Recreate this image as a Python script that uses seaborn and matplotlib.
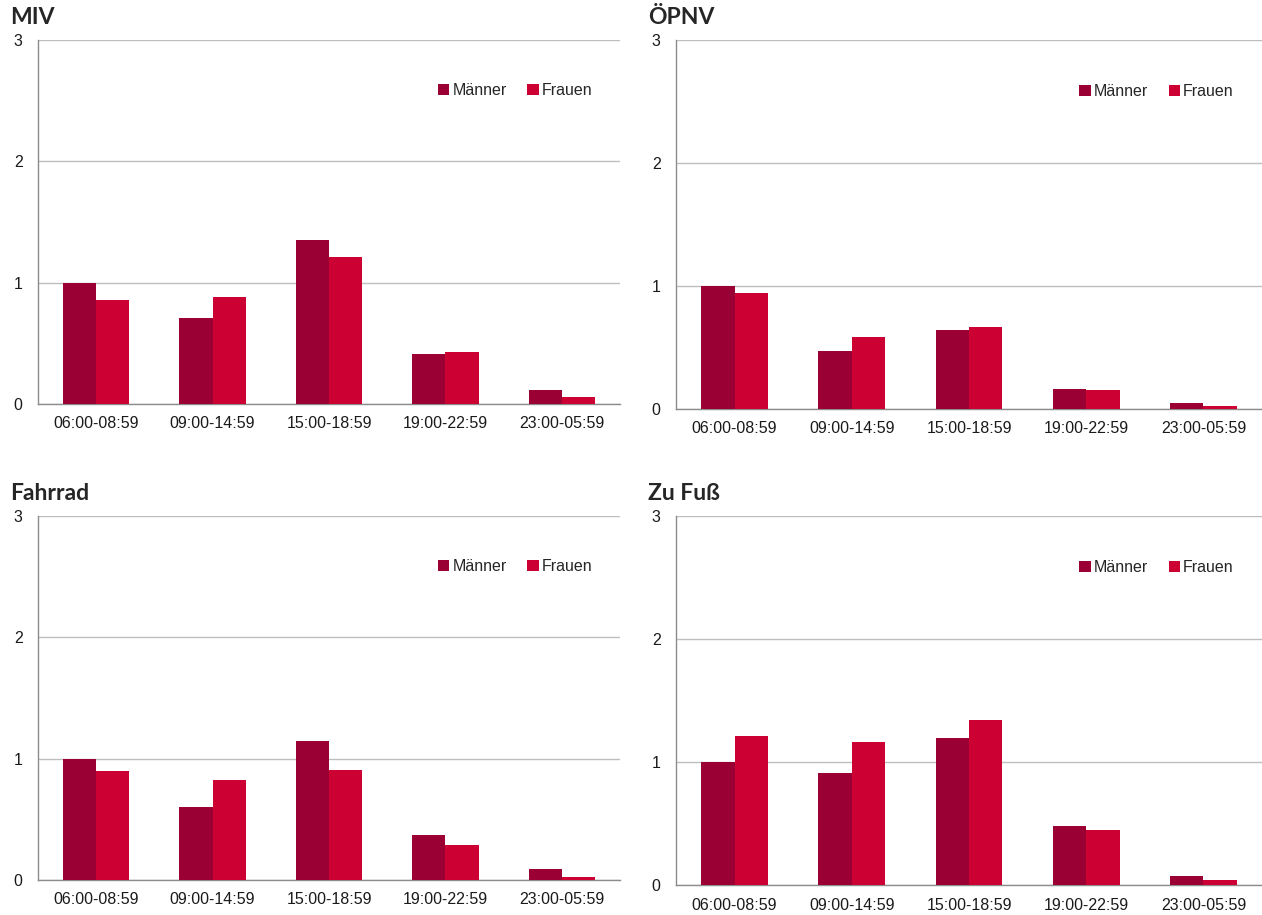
import pandas as pd
import matplotlib
matplotlib.use("Agg")
import matplotlib.pyplot as plt
import seaborn as sns

# Daten
zeiten = ["06:00-08:59", "09:00-14:59", "15:00-18:59", "19:00-22:59", "23:00-05:59"]
gruppen = ["Männer", "Frauen"]
titel = ["MIV", "ÖPNV", "Fahrrad", "Zu Fuß"]

miv_m = [1.00, 0.71, 1.35, 0.41, 0.115]
miv_f = [0.86, 0.88, 1.21, 0.43, 0.06]
oepnv_m = [1.00, 0.47, 0.645, 0.16, 0.05]
oepnv_f = [0.94, 0.585, 0.67, 0.155, 0.025]
rad_m = [1.00, 0.60, 1.145, 0.37, 0.09]
rad_f = [0.90, 0.825, 0.905, 0.29, 0.025]
fuss_m = [1.00, 0.91, 1.195, 0.48, 0.075]
fuss_f = [1.21, 1.16, 1.34, 0.45, 0.04]

serien = [(miv_m, miv_f), (oepnv_m, oepnv_f), (rad_m, rad_f), (fuss_m, fuss_f)]

farben = {"Männer": "#9B0034", "Frauen": "#CC0033"}

sns.set_style("white")
plt.rcParams["font.family"] = ["Liberation Sans", "DejaVu Sans"]

fig = plt.figure(figsize=(12.62, 9.15), dpi=100)

# Position der Achsen in Pixeln: (links, oben, rechts, unten)
boxen = [(38, 40, 620, 404), (676, 40, 1262, 409),
         (38, 516, 620, 880), (676, 516, 1262, 885)]

W, H = 1262, 915
for name, (m, f), (l, t, r, b) in zip(titel, serien, boxen):
    ax = fig.add_axes([l / W, 1 - b / H, (r - l) / W, (b - t) / H])
    df = pd.DataFrame({
        "Zeit": zeiten * 2,
        "Gruppe": ["Männer"] * 5 + ["Frauen"] * 5,
        "Wert": m + f,
    })
    sns.barplot(data=df, x="Zeit", y="Wert", hue="Gruppe", hue_order=gruppen,
                palette=farben, width=0.57, gap=0, errorbar=None,
                saturation=1, linewidth=0, ax=ax, zorder=3)
    ax.set_ylim(0, 3)
    ax.set_xlim(-0.5, 4.5)
    ax.set_yticks([0, 1, 2, 3])
    ax.yaxis.grid(True, color="#BEBEBE", linewidth=1)
    ax.set_axisbelow(True)
    ax.set_xlabel("")
    ax.set_ylabel("")
    for s in ["top", "right"]:
        ax.spines[s].set_visible(False)
    for s in ["left", "bottom"]:
        ax.spines[s].set_color("#8C8C8C")
        ax.spines[s].set_linewidth(1)
    ax.set_xticks([i + 0.5 for i in range(-1, 5)], minor=True)
    ax.tick_params(axis="x", which="major", length=0, labelsize=11.5,
                   labelcolor="#1A1A1A", pad=9)
    ax.tick_params(axis="x", which="minor", length=5, color="#BEBEBE", width=1)
    ax.tick_params(axis="y", length=5, color="#8C8C8C", labelsize=11.5,
                   labelcolor="#1A1A1A", pad=6)
    ax.legend(loc="center", bbox_to_anchor=(0.82, 0.86), ncol=2, frameon=False,
              fontsize=11.5, handlelength=0.7, handleheight=0.7,
              handletextpad=0.2, columnspacing=1.3)
    fig.text((l - 28) / W, 1 - (t - 23) / H, name, fontsize=16.5, fontweight="bold",
             family=["Lato", "DejaVu Sans"], va="center", ha="left")

fig.savefig("out.png", dpi=100)
